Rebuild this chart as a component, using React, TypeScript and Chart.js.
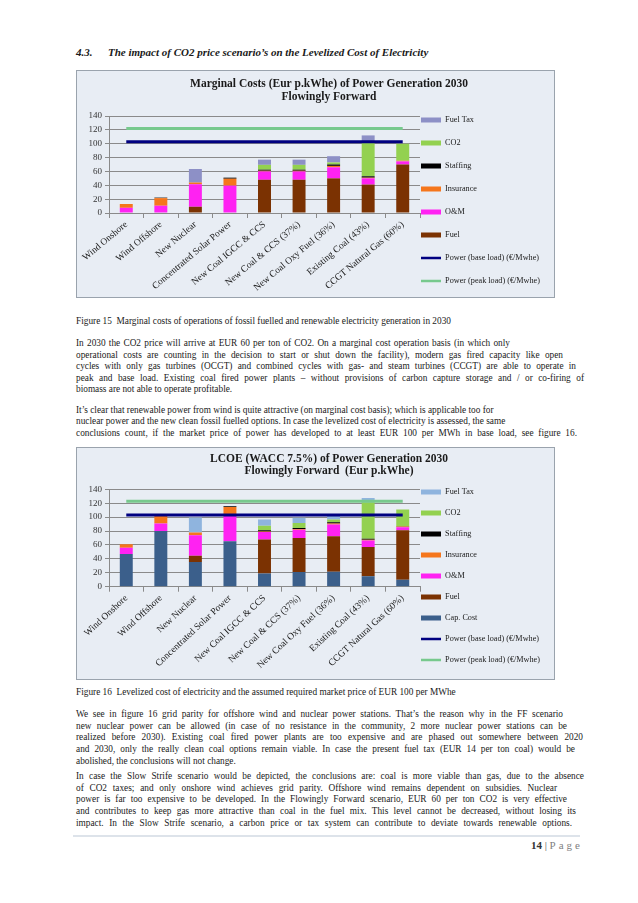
import React, { useEffect, useRef } from "react";
import { Chart, registerables } from "chart.js";

Chart.register(...registerables);

const FONT = "'Liberation Serif', 'Times New Roman', serif";
const GRID = "#8a8a8a";

// ---------- data ----------
const categories = [
  "Wind Onshore",
  "Wind Offshore",
  "New Nuclear",
  "Concentrated Solar Power",
  "New Coal IGCC & CCS",
  "New Coal & CCS (37%)",
  "New Coal Oxy Fuel (36%)",
  "Existing Coal (43%)",
  "CCGT Natural Gas (60%)",
];
const yTicks = [0, 20, 40, 60, 80, 100, 120, 140];

// Figure 15: marginal costs
const mcFuel = [0, 0, 9, 0, 48, 48, 50, 41, 70];
const mcOM = [7.5, 10.5, 32.5, 39.5, 12, 12, 16, 9, 4.5];
const mcInsurance = [5.5, 11, 2.5, 10, 1, 1, 2, 1, 1];
const mcStaffing = [0, 0.7, 0, 1.5, 1.5, 1.5, 2, 2, 0];
const mcCO2 = [0, 0, 0, 0, 7, 7, 3, 48, 24.5];
const mcFuelTax = [0, 0, 19.5, 0, 7.5, 7.5, 9, 11, 0];
const mcBaseLoad = [103, 103, 103, 103, 103, 103, 103, 103, 103];
const mcPeakLoad = [122, 122, 122, 122, 122, 122, 122, 122, 122];

// Figure 16: LCOE
const lcCapCost = [47, 80, 35.5, 65.5, 19, 21, 21.5, 15, 10];
const lcFuel = [0, 0, 9, 0, 49, 49, 51, 42, 71];
const lcOM = [9, 11, 29.5, 39, 10.5, 12, 17, 9.5, 4.5];
const lcInsurance = [5, 10.5, 4, 10, 1, 1, 1.5, 1, 1];
const lcStaffing = [0, 0.5, 0, 1, 1.5, 1.5, 1.5, 1.5, 0.5];
const lcCO2 = [0, 0, 0, 0, 6.5, 7, 4, 52.5, 24];
const lcFuelTax = [0, 0, 21.5, 0, 9, 7.5, 6.5, 6, 0];
const lcBaseLoad = [103, 103, 103, 103, 103, 103, 103, 103, 103];
const lcPeakLoad = [123, 123, 123, 123, 123, 123, 123, 123, 123];

const C = {
  fuelTax1: "#8d90c6",
  fuelTax2: "#8fb4de",
  co2: "#93d150",
  staffing: "#000000",
  insurance: "#f5761c",
  om: "#ff22f2",
  fuel: "#7b3202",
  cap: "#3b5f8b",
  base: "#000080",
  peak: "#77c98d",
};

const LEGEND_SIZE = 8.2;

// ---------- chart helpers ----------
function barDs(label: string, data: number[], color: string) {
  return {
    type: "bar" as const,
    label,
    data,
    backgroundColor: color,
    borderWidth: 0,
    stack: "costs",
    order: 2,
    barPercentage: 0.75,
    categoryPercentage: 0.5,
  };
}
function lineDs(label: string, data: number[], color: string, stack: string) {
  return {
    type: "line" as const,
    label,
    data,
    borderColor: color,
    backgroundColor: color,
    borderWidth: 3,
    pointRadius: 0,
    fill: false,
    tension: 0,
    stack,
    order: 1,
  };
}

const nudge = {
  id: "nudge",
  afterLayout(chart: any, _args: any, opts: any) {
    const t = chart.titleBlock;
    if (t && opts.titleCenter != null) {
      const c = (t.left + t.right) / 2;
      const d = opts.titleCenter - c;
      t.left += d;
      t.right += d;
    }
    const lg = chart.legend;
    if (lg && opts.legendX != null) {
      const pad = lg.options.labels.padding;
      const w = lg.width;
      lg.left = opts.legendX - pad;
      lg.right = lg.left + w;
      lg.top = opts.legendFirstY - LEGEND_SIZE / 2 - pad;
      lg.bottom = lg.top + 600;
    }
  },
};

type Spec = {
  left: number;
  top: number;
  width: number;
  height: number;
  title: string[];
  titleLineHeight: number;
  titlePad: { top: number; bottom: number };
  datasets: any[];
  legendOrder: number[];
  legendPadding: number;
  legendFirstY: number;
  xHeight: number;
  rotation: number;
};

function CostChart({ spec }: { spec: Spec }) {
  const ref = useRef<HTMLCanvasElement>(null);
  useEffect(() => {
    const cfg: any = {
      type: "bar",
      data: { labels: categories, datasets: spec.datasets },
      options: {
        responsive: false,
        animation: false,
        devicePixelRatio: 1,
        layout: { padding: { left: 11, right: 0, top: 0, bottom: 0 } },
        plugins: {
          title: {
            display: true,
            text: spec.title,
            color: "#1a1a1a",
            font: { family: FONT, size: 11.5, weight: "bold", lineHeight: spec.titleLineHeight },
            padding: spec.titlePad,
          },
          legend: {
            position: "right",
            align: "start",
            maxWidth: 134,
            labels: {
              usePointStyle: true,
              pointStyleWidth: 20,
              boxHeight: 5,
              padding: spec.legendPadding,
              color: "#1a1a1a",
              font: { family: FONT, size: LEGEND_SIZE },
              generateLabels: (chart: any) =>
                spec.legendOrder.map((i) => {
                  const ds = chart.data.datasets[i];
                  const isLine = ds.type === "line";
                  return {
                    text: ds.label,
                    fillStyle: isLine ? ds.borderColor : ds.backgroundColor,
                    strokeStyle: isLine ? ds.borderColor : ds.backgroundColor,
                    lineWidth: isLine ? 2.5 : 0,
                    pointStyle: isLine ? "line" : "rect",
                    fontColor: "#1a1a1a",
                    hidden: false,
                    datasetIndex: i,
                  };
                }),
            },
          },
          tooltip: { enabled: false },
          nudge: { titleCenter: 252, legendX: 344, legendFirstY: spec.legendFirstY },
        },
        scales: {
          x: {
            stacked: true,
            grid: { display: true, drawOnChartArea: false, drawTicks: true, tickLength: 5, color: GRID, offset: true },
            border: { color: GRID },
            ticks: {
              autoSkip: false,
              minRotation: spec.rotation,
              maxRotation: spec.rotation,
              font: { family: FONT, size: 9.5 },
              color: "#1a1a1a",
              padding: 1,
            },
            afterFit: (s: any) => {
              s.height = spec.xHeight;
            },
          },
          y: {
            stacked: true,
            min: yTicks[0],
            max: yTicks[yTicks.length - 1],
            grid: { color: GRID, tickLength: 4 },
            border: { color: GRID },
            ticks: { stepSize: 20, font: { family: FONT, size: 9 }, color: "#333", padding: 3 },
            afterFit: (s: any) => {
              s.width = 21;
            },
          },
        },
      },
      plugins: [nudge],
    };
    const chart = new Chart(ref.current as HTMLCanvasElement, cfg);
    return () => chart.destroy();
  }, []);
  return (
    <>
      <div
        style={{
          position: "absolute",
          left: spec.left - 1,
          top: spec.top - 1,
          width: spec.width + 2,
          height: spec.height + 2,
          boxSizing: "border-box",
          border: "1px solid #9aa3ad",
          background: "#e8edf4",
        }}
      />
      <canvas
        ref={ref}
        width={spec.width}
        height={spec.height}
        style={{ position: "absolute", left: spec.left, top: spec.top, width: spec.width, height: spec.height }}
      />
    </>
  );
}

const spec15: Spec = {
  left: 77,
  top: 71,
  width: 477,
  height: 226,
  title: ["Marginal Costs (Eur p.kWhe) of Power Generation 2030", "Flowingly Forward"],
  titleLineHeight: 1.157,
  titlePad: { top: 6.35, bottom: 12.05 },
  datasets: [
    barDs("Fuel", mcFuel, C.fuel),
    barDs("O&M", mcOM, C.om),
    barDs("Insurance", mcInsurance, C.insurance),
    barDs("Staffing", mcStaffing, C.staffing),
    barDs("CO2", mcCO2, C.co2),
    barDs("Fuel Tax", mcFuelTax, C.fuelTax1),
    lineDs("Power (base load) (€/Mwhe)", mcBaseLoad, C.base, "base"),
    lineDs("Power (peak load) (€/Mwhe)", mcPeakLoad, C.peak, "peak"),
  ],
  legendOrder: [5, 4, 3, 2, 1, 0, 6, 7],
  legendPadding: 14.8,
  legendFirstY: 49,
  xHeight: 84,
  rotation: 40,
};

const spec16: Spec = {
  left: 77,
  top: 448,
  width: 477,
  height: 231,
  title: ["LCOE (WACC 7.5%) of Power Generation 2030", "Flowingly Forward  (Eur p.kWhe)"],
  titleLineHeight: 1.0,
  titlePad: { top: 5.55, bottom: 12.75 },
  datasets: [
    barDs("Cap. Cost", lcCapCost, C.cap),
    barDs("Fuel", lcFuel, C.fuel),
    barDs("O&M", lcOM, C.om),
    barDs("Insurance", lcInsurance, C.insurance),
    barDs("Staffing", lcStaffing, C.staffing),
    barDs("CO2", lcCO2, C.co2),
    barDs("Fuel Tax", lcFuelTax, C.fuelTax2),
    lineDs("Power (base load) (€/Mwhe)", lcBaseLoad, C.base, "base"),
    lineDs("Power (peak load) (€/Mwhe)", lcPeakLoad, C.peak, "peak"),
  ],
  legendOrder: [6, 5, 4, 3, 2, 1, 0, 7, 8],
  legendPadding: 12.8,
  legendFirstY: 44,
  xHeight: 92.3,
  rotation: 43,
};

// ---------- page text ----------
type Line = { t: string; y: number; end: number; j: boolean };
const textLines: Line[] = [
  { t: "Figure 15  Marginal costs of operations of fossil fuelled and renewable electricity generation in 2030", y: 321, end: 436, j: false },
  { t: "In 2030 the CO2 price will arrive at EUR 60 per ton of CO2. On a marginal cost operation basis (in which only", y: 343, end: 510, j: true },
  { t: "operational costs are counting in the decision to start or shut down the facility), modern gas fired capacity like open", y: 354.5, end: 563, j: true },
  { t: "cycles with only gas turbines (OCGT) and combined cycles with gas- and steam turbines (CCGT) are able to operate in", y: 366, end: 576, j: true },
  { t: "peak and base load. Existing coal fired power plants – without provisions of carbon capture storage and / or co-firing of", y: 377.7, end: 584, j: true },
  { t: "biomass are not able to operate profitable.", y: 389.3, end: 253, j: false },
  { t: "It’s clear that renewable power from wind is quite attractive (on marginal cost basis); which is applicable too for", y: 409.7, end: 492, j: true },
  { t: "nuclear power and the new clean fossil fuelled options. In case the levelized cost of electricity is assessed, the same", y: 421.3, end: 500, j: true },
  { t: "conclusions count, if the market price of power has developed to at least EUR 100 per MWh in base load, see figure 16.", y: 433, end: 577, j: true },
  { t: "Figure 16  Levelized cost of electricity and the assumed required market price of EUR 100 per MWhe", y: 691.5, end: 503, j: false },
  { t: "We see in figure 16 grid parity for offshore wind and nuclear power stations. That’s the reason why in the FF scenario", y: 714, end: 563, j: true },
  { t: "new nuclear power can be allowed (in case of no resistance in the community, 2 more nuclear power stations can be", y: 725.7, end: 567, j: true },
  { t: "realized before 2030). Existing coal fired power plants are too expensive and are phased  out somewhere between 2020", y: 737.3, end: 583, j: true },
  { t: "and 2030, only the really clean coal options remain viable. In case the present fuel tax (EUR 14 per ton coal) would be", y: 749, end: 575, j: true },
  { t: "abolished, the conclusions will not change.", y: 760.5, end: 247, j: false },
  { t: "In case the Slow Strife scenario would be depicted, the conclusions are: coal is more viable than gas, due to the absence", y: 776, end: 584, j: true },
  { t: "of CO2 taxes; and only onshore wind achieves grid parity.  Offshore wind remains dependent on subsidies. Nuclear", y: 787.7, end: 557, j: true },
  { t: "power is far too expensive to be developed. In the Flowingly Forward scenario, EUR 60 per ton CO2 is very effective", y: 799.3, end: 567, j: true },
  { t: "and contributes to keep gas more attractive than coal in the fuel mix. This level cannot be decreased, without losing its", y: 811, end: 576, j: true },
  { t: "impact. In the Slow Strife scenario, a carbon price or tax system can contribute to deviate towards renewable options.", y: 822.7, end: 572, j: true },
];

const BODY_SIZE = 9.3;

export default function App() {
  return (
    <div
      style={{
        position: "absolute",
        left: 0,
        top: 0,
        width: 638,
        height: 903,
        background: "#ffffff",
        overflow: "hidden",
        fontFamily: FONT,
        color: "#1a1a1a",
      }}
    >
      <div style={{ position: "absolute", left: 76, top: 45, lineHeight: "14px", fontSize: 11, fontWeight: "bold", fontStyle: "italic", whiteSpace: "nowrap" }}>
        4.3.
      </div>
      <div style={{ position: "absolute", left: 108, top: 45, lineHeight: "14px", fontSize: 11, fontWeight: "bold", fontStyle: "italic", whiteSpace: "nowrap" }}>
        The impact of CO2 price scenario’s on the Levelized Cost of Electricity
      </div>

      <CostChart spec={spec15} />
      <CostChart spec={spec16} />

      {textLines.map((l, i) => (
        <div
          key={i}
          style={{
            position: "absolute",
            left: 76,
            top: l.y - 6,
            width: l.end - 76,
            height: 12,
            lineHeight: "12px",
            fontSize: BODY_SIZE,
            whiteSpace: l.j ? "nowrap" : "pre",
            textAlign: l.j ? "justify" : "left",
            textAlignLast: l.j ? "justify" : "auto",
          }}
        >
          {l.t}
        </div>
      ))}

      <div style={{ position: "absolute", left: 73, top: 835, width: 507, height: 2, background: "#dde3ea" }} />
      <div style={{ position: "absolute", right: 58, top: 839, lineHeight: "13px", fontSize: 11, whiteSpace: "nowrap" }}>
        <span style={{ fontWeight: "bold", color: "#333" }}>14</span>
        <span style={{ color: "#555" }}> | </span>
        <span style={{ color: "#7f7f7f", letterSpacing: "3px" }}>Pag</span>
        <span style={{ color: "#7f7f7f" }}>e</span>
      </div>
    </div>
  );
}
